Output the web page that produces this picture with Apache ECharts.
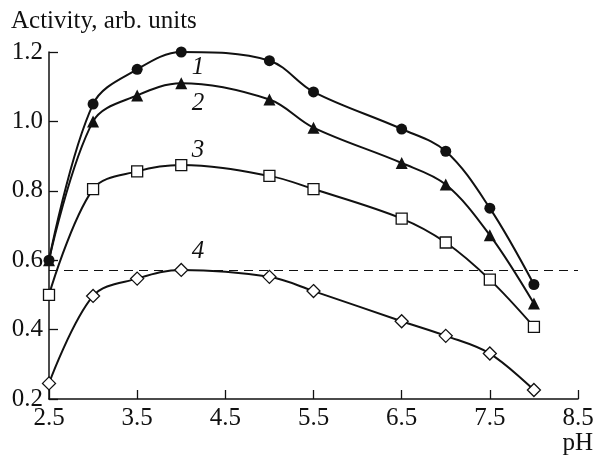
<!DOCTYPE html>
<html>
<head>
<meta charset="utf-8">
<script src="https://cdn.jsdelivr.net/npm/echarts@6/dist/echarts.min.js"></script>
<style>
  html, body { margin: 0; padding: 0; background: #fff; }
  #main { width: 596px; height: 456px; }
</style>
</head>
<body>
<div id="main"></div>
<script>
// pH values where activity was measured
const phValues = [2.5, 3.0, 3.5, 4.0, 5.0, 5.5, 6.5, 7.0, 7.5, 8.0];
// activity curves 1-4
const curve1 = [0.60, 1.05, 1.15, 1.20, 1.175, 1.085, 0.978, 0.914, 0.75, 0.53];
const curve2 = [0.60, 1.00, 1.075, 1.11, 1.063, 0.982, 0.88, 0.818, 0.672, 0.475];
const curve3 = [0.50, 0.805, 0.856, 0.874, 0.843, 0.805, 0.72, 0.651, 0.544, 0.408];
const curve4 = [0.245, 0.497, 0.547, 0.572, 0.552, 0.511, 0.424, 0.382, 0.331, 0.226];
const refLevel = 0.575; // dashed line
const curveNames = ['1', '2', '3', '4'];
// where the curve numbers sit (pH, activity)
const labelX = [4.19, 4.19, 4.19, 4.19];
const labelY = [1.155, 1.052, 0.917, 0.626];

const ink = '#111';
const serif = '"Liberation Serif", "DejaVu Serif", serif';

const chart = echarts.init(document.getElementById('main'));

function pairs(ys) {
  return phValues.map((x, i) => [x, ys[i]]);
}

function curveSeries(idx, ys, symbol, size, filled) {
  return {
    type: 'line',
    name: curveNames[idx],
    data: pairs(ys),
    smooth: 0.35,
    symbol: symbol,
    symbolSize: size,
    showAllSymbol: true,
    lineStyle: { color: ink, width: 2 },
    itemStyle: {
      color: filled ? ink : '#fff',
      borderColor: ink,
      borderWidth: filled ? 0 : 1.3
    },
    z: 3 + idx,
    markPoint: {
      symbol: 'circle',
      symbolSize: 0,
      data: [{ coord: [labelX[idx], labelY[idx]] }],
      label: {
        show: true,
        formatter: curveNames[idx],
        color: ink,
        fontFamily: serif,
        fontStyle: 'italic',
        fontSize: 25
      }
    }
  };
}

const series = [
  curveSeries(1, curve2, 'triangle', 12, true),
  curveSeries(0, curve1, 'circle', 11, true),
  curveSeries(2, curve3, 'rect', 11, false),
  curveSeries(3, curve4, 'diamond', 13, false)
];
series[3].markLine = {
  silent: true,
  symbol: 'none',
  label: { show: false },
  lineStyle: { color: ink, width: 1.2, type: [9, 6] },
  data: [{ yAxis: refLevel }]
};

const option = {
  animation: false,
  title: [
    {
      text: 'Activity, arb. units',
      left: 6, top: 4,
      textStyle: { fontFamily: serif, fontWeight: 'normal', fontSize: 25, color: ink }
    },
    {
      text: 'pH',
      right: -2, top: 426,
      textStyle: { fontFamily: serif, fontWeight: 'normal', fontSize: 25, color: ink }
    }
  ],
  grid: { left: 49, right: 18, top: 52, bottom: 57, containLabel: false, outerBoundsMode: 'none' },
  xAxis: {
    type: 'value',
    min: 2.5, max: 8.5, interval: 1,
    axisLine: { show: true, lineStyle: { color: ink, width: 1.5 } },
    axisTick: { show: true, inside: true, length: 9, lineStyle: { color: ink, width: 1.3 } },
    splitLine: { show: false },
    axisLabel: {
      color: ink, fontFamily: serif, fontSize: 25, margin: 7,
      formatter: v => v.toFixed(1)
    }
  },
  yAxis: {
    type: 'value',
    min: 0.2, max: 1.2, interval: 0.2,
    axisLine: { show: true, lineStyle: { color: ink, width: 1.5 } },
    axisTick: { show: true, inside: true, length: 9, lineStyle: { color: ink, width: 1.3 } },
    splitLine: { show: false },
    axisLabel: {
      color: ink, fontFamily: serif, fontSize: 25, margin: 6,
      formatter: v => v.toFixed(1)
    }
  },
  series: series
};

chart.setOption(option);
</script>
</body>
</html>
